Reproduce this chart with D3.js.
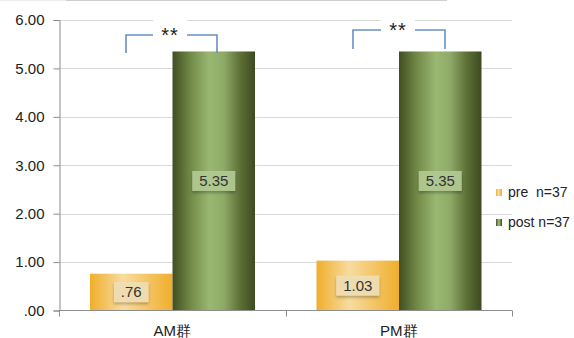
<!DOCTYPE html>
<html>
<head>
<meta charset="utf-8">
<script src="https://cdn.jsdelivr.net/npm/d3@7"></script>
<style>
  body { margin: 0; background: #fff; }
  svg { display: block; }
</style>
</head>
<body>
<script>
// donnees
var categories = ["AM群", "PM群"];
var series = ["pre", "post"];
var preValues = [0.76, 1.03];
var postValues = [5.35, 5.35];
var legendLabels = ["pre  n=37", "post n=37"];
var yTicks = [0, 1, 2, 3, 4, 5, 6];
var signif = ["**", "**"];

var larg = 574, haut = 338;
var police = "'Liberation Sans', Arial, sans-serif";

var svg = d3.select("body").append("svg")
  .attr("width", larg)
  .attr("height", haut);

var defs = svg.append("defs");

// degrades des barres
function degrade(id, stops) {
  var g = defs.append("linearGradient").attr("id", id)
    .attr("x1", "0%").attr("x2", "100%").attr("y1", "0%").attr("y2", "0%");
  stops.forEach(function(s) {
    g.append("stop").attr("offset", s[0]).attr("stop-color", s[1]);
  });
}
degrade("gPre", [["0%", "#F0AE2C"], ["40%", "#F7DC9F"], ["100%", "#F0AE2C"]]);
degrade("gPost", [["0%", "#414E22"], ["22%", "#728A48"], ["45%", "#9AB872"], ["62%", "#8FAA68"], ["82%", "#5D7036"], ["100%", "#3E4A20"]]);

var ombre = defs.append("filter").attr("id", "ombre")
  .attr("x", "-20%").attr("y", "-20%").attr("width", "140%").attr("height", "160%");
ombre.append("feDropShadow").attr("dx", 0).attr("dy", 2).attr("stdDeviation", 1.5)
  .attr("flood-color", "#000").attr("flood-opacity", 0.3);

// echelles
var x0 = d3.scaleBand().domain(categories).range([59, 512]).padding(0);
var x1 = d3.scaleBand().domain(series).range([31, 196]).padding(0);
var y = d3.scaleLinear().domain([0, 6]).range([310.5, 20]);

// ligne du haut (bord recadre)
svg.append("line").attr("x1", 0).attr("x2", 66).attr("y1", 0.5).attr("y2", 0.5)
  .attr("stroke", "#eeeeee");
svg.append("line").attr("x1", 66).attr("x2", 447).attr("y1", 0.5).attr("y2", 0.5)
  .attr("stroke", "#d0d0d0");

// grille
svg.append("g").selectAll("line")
  .data(yTicks.filter(function(d) { return d > 0; }))
  .enter().append("line")
  .attr("x1", 59).attr("x2", 512)
  .attr("y1", function(d) { return Math.round(y(d)) + 0.5; })
  .attr("y2", function(d) { return Math.round(y(d)) + 0.5; })
  .attr("stroke", "#d9d9d9");

// axe y
var axeY = svg.append("g").attr("transform", "translate(59.5,0)")
  .call(d3.axisLeft(y).tickValues(yTicks).tickSize(6).tickPadding(9)
    .tickFormat(function(d) { return d === 0 ? ".00" : d3.format(".2f")(d); }));
axeY.select(".domain").attr("stroke", "#8c8c8c");
axeY.selectAll(".tick line").attr("stroke", "#8c8c8c");
axeY.selectAll("text").attr("font-family", police).attr("font-size", "15px").attr("fill", "#222");

// barres
var groupes = svg.append("g").selectAll("g")
  .data(categories)
  .enter().append("g")
  .attr("transform", function(d) { return "translate(" + x0(d) + ",0)"; });

groupes.each(function(c, i) {
  var g = d3.select(this);
  var vals = [preValues[i], postValues[i]];
  series.forEach(function(s, j) {
    g.append("rect")
      .attr("x", x1(s))
      .attr("y", y(vals[j]))
      .attr("width", x1.bandwidth())
      .attr("height", y(0) - y(vals[j]))
      .attr("fill", j === 0 ? "url(#gPre)" : "url(#gPost)");
  });
  // etiquettes
  series.forEach(function(s, j) {
    var txt = j === 0 ? d3.format(".2f")(vals[j]).replace(/^0/, "") : d3.format(".2f")(vals[j]);
    var cx = x1(s) + x1.bandwidth() / 2;
    var cy = (y(vals[j]) + y(0)) / 2;
    var w = txt.length * 8.5 + 9;
    g.append("rect")
      .attr("x", cx - w / 2).attr("y", cy - 10)
      .attr("width", w).attr("height", 20)
      .attr("fill", j === 0 ? "#F1E0B6" : "#B4CB93")
      .attr("fill-opacity", 0.9)
      .attr("filter", "url(#ombre)");
    g.append("text")
      .attr("x", cx).attr("y", cy + 5)
      .attr("text-anchor", "middle")
      .attr("font-family", police).attr("font-size", "15px")
      .attr("fill", "#333")
      .text(txt);
  });
});

// axe x
var axeX = svg.append("g").attr("transform", "translate(0," + (y(0)) + ")");
axeX.append("line").attr("x1", 59).attr("x2", 512).attr("y1", 0).attr("y2", 0)
  .attr("stroke", "#8c8c8c");
axeX.selectAll(".tk").data([59, 285.5, 512]).enter().append("line")
  .attr("x1", function(d) { return Math.round(d) + 0.5; })
  .attr("x2", function(d) { return Math.round(d) + 0.5; })
  .attr("y1", 0).attr("y2", 6).attr("stroke", "#8c8c8c");
axeX.selectAll("text").data(categories).enter().append("text")
  .attr("x", function(d) { return x0(d) + x0.bandwidth() / 2; })
  .attr("y", 25)
  .attr("text-anchor", "middle")
  .attr("font-family", police).attr("font-size", "15px").attr("fill", "#222")
  .text(function(d) { return d; });

// crochets de significativite
var crochets = [
  { xl: 126, xr: 217, mid: 170, yh: 35, yb: 53, yt: 42 },
  { xl: 353, xr: 445, mid: 398, yh: 30, yb: 49, yt: 37 }
];
crochets.forEach(function(b, i) {
  svg.append("path")
    .attr("d", "M" + b.xl + "," + b.yb + "V" + b.yh + "H" + (b.mid - 17) +
      "M" + (b.mid + 17) + "," + b.yh + "H" + b.xr + "V" + b.yb)
    .attr("fill", "none").attr("stroke", "#6591C6").attr("stroke-width", 1.6);
  svg.append("rect")
    .attr("x", b.mid - 17).attr("y", 15).attr("width", 34).attr("height", b.yh - 15 + 6)
    .attr("fill", "#fff");
  svg.append("text")
    .attr("x", b.mid).attr("y", b.yt)
    .attr("text-anchor", "middle")
    .attr("font-family", police).attr("font-size", "20px").attr("fill", "#222")
    .attr("letter-spacing", "1px")
    .text(signif[i]);
});

// legende
var legende = svg.append("g").selectAll("g")
  .data(series)
  .enter().append("g")
  .attr("transform", function(d, i) { return "translate(496," + (189 + i * 30) + ")"; });
legende.append("rect")
  .attr("width", 6).attr("height", 7)
  .attr("fill", function(d, i) { return i === 0 ? "url(#gPre)" : "url(#gPost)"; });
legende.append("text")
  .attr("x", 12).attr("y", 8)
  .attr("font-family", police).attr("font-size", "14px").attr("fill", "#222")
  .style("white-space", "pre")
  .text(function(d, i) { return legendLabels[i]; });
</script>
</body>
</html>
